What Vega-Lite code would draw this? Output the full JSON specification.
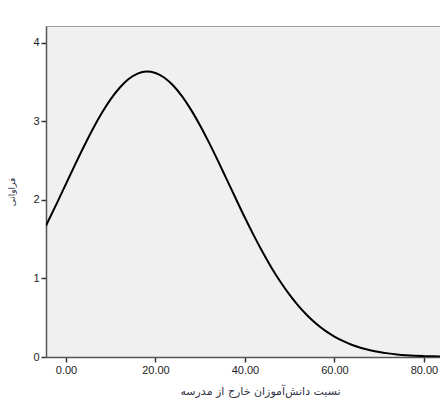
{
  "$schema": "https://vega.github.io/schema/vega-lite/v6.json",
  "width": 394,
  "height": 331,
  "autosize": {"type": "none"},
  "padding": {"left": 46, "top": 26, "right": 0, "bottom": 63},
  "background": "#ffffff",
  "config": {
    "view": {"fill": "#f0f0f0", "stroke": "#a0a0a0", "strokeWidth": 1},
    "axis": {
      "labelFont": "Liberation Sans",
      "labelFontSize": 11,
      "labelColor": "#222222",
      "titleFont": "DejaVu Sans",
      "titleFontWeight": "normal",
      "titleColor": "#333344",
      "domainColor": "#555555",
      "domainWidth": 1.5,
      "tickColor": "#333333",
      "tickWidth": 1.5,
      "tickSize": 5,
      "grid": false
    }
  },
  "data": {
    "values": [
      {"x": -4.5, "y": 1.668}, {"x": -2, "y": 1.961}, {"x": 0, "y": 2.202},
      {"x": 2, "y": 2.443}, {"x": 4, "y": 2.677}, {"x": 6, "y": 2.900},
      {"x": 8, "y": 3.103}, {"x": 10, "y": 3.280}, {"x": 12, "y": 3.425},
      {"x": 14, "y": 3.535}, {"x": 16, "y": 3.604}, {"x": 18, "y": 3.630},
      {"x": 20, "y": 3.612}, {"x": 22, "y": 3.552}, {"x": 24, "y": 3.450},
      {"x": 26, "y": 3.312}, {"x": 28, "y": 3.140}, {"x": 30, "y": 2.942},
      {"x": 32, "y": 2.723}, {"x": 34, "y": 2.491}, {"x": 36, "y": 2.250},
      {"x": 38, "y": 2.009}, {"x": 40, "y": 1.771}, {"x": 42, "y": 1.544},
      {"x": 44, "y": 1.329}, {"x": 46, "y": 1.130}, {"x": 48, "y": 0.950},
      {"x": 50, "y": 0.789}, {"x": 52, "y": 0.647}, {"x": 54, "y": 0.525},
      {"x": 56, "y": 0.420}, {"x": 58, "y": 0.332}, {"x": 60, "y": 0.260},
      {"x": 62, "y": 0.201}, {"x": 64, "y": 0.153}, {"x": 66, "y": 0.115},
      {"x": 68, "y": 0.086}, {"x": 70, "y": 0.063}, {"x": 72, "y": 0.046},
      {"x": 74, "y": 0.033}, {"x": 76, "y": 0.023}, {"x": 78, "y": 0.016},
      {"x": 80, "y": 0.011}, {"x": 82, "y": 0.008}, {"x": 84, "y": 0.005}
    ]
  },
  "mark": {"type": "line", "color": "#000000", "strokeWidth": 2, "interpolate": "monotone", "clip": true},
  "encoding": {
    "x": {
      "field": "x", "type": "quantitative",
      "scale": {"domain": [-4.47, 83.6], "nice": false, "zero": false},
      "axis": {
        "values": [0, 20, 40, 60, 80], "format": ".2f",
        "title": "نسبت دانش‌آموزان خارج از مدرسه",
        "titleFontSize": 11, "titlePadding": 10, "titleX": 214,
        "labelPadding": 2
      }
    },
    "y": {
      "field": "y", "type": "quantitative",
      "scale": {"domain": [0, 4.21], "nice": false},
      "axis": {
        "values": [0, 1, 2, 3, 4], "format": "d",
        "title": "فراوانی",
        "titleFontSize": 9, "titlePadding": 16,
        "labelPadding": 2
      }
    }
  }
}
